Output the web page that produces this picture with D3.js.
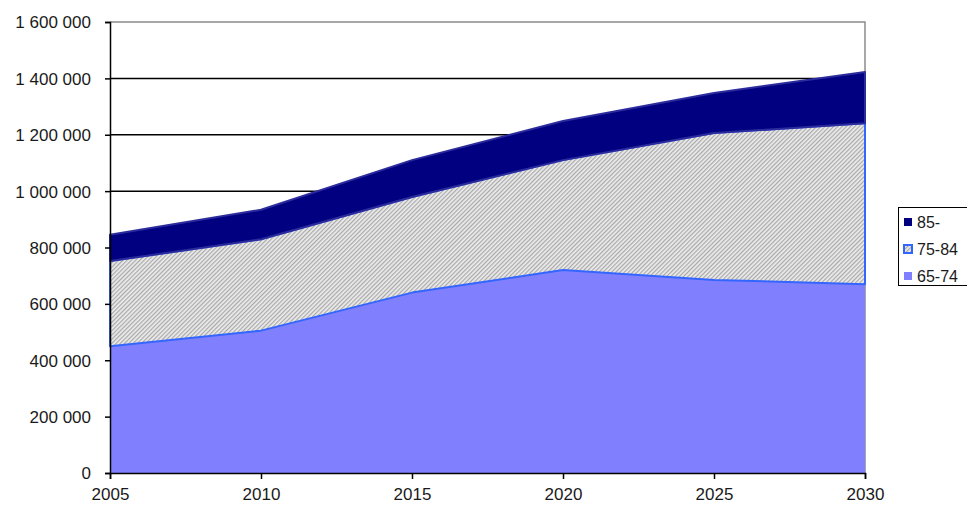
<!DOCTYPE html>
<html>
<head>
<meta charset="utf-8">
<script src="https://cdn.jsdelivr.net/npm/d3@7"></script>
<style>
  body { margin: 0; background: #fff; }
  svg { display: block; font-family: Arial, "Liberation Sans", sans-serif; }
</style>
</head>
<body>
<div class="canvas"></div>
<script>
// data (people)
const years = [2005, 2010, 2015, 2020, 2025, 2030];
const age65_74 = [450000, 505000, 640000, 720000, 685000, 670000];
const age75_84 = [302000, 324000, 339000, 390000, 521000, 571000];
const age85 = [93000, 105000, 131000, 139000, 142000, 182000];
const seriesNames = ["65-74", "75-84", "85-"];
const yTicks = [0, 200000, 400000, 600000, 800000, 1000000, 1200000, 1400000, 1600000];

const dims = { width: 967, height: 507 };
const margin = { top: 22, right: 102, bottom: 34, left: 110 };
const innerW = dims.width - margin.left - margin.right;
const innerH = dims.height - margin.top - margin.bottom;

const svg = d3
  .select(".canvas")
  .append("svg")
  .attr("width", dims.width)
  .attr("height", dims.height);

// hatch pattern for 75-84
const defs = svg.append("defs");
const pat = defs
  .append("pattern")
  .attr("id", "hatch")
  .attr("patternUnits", "userSpaceOnUse")
  .attr("width", 3)
  .attr("height", 3)
  .attr("patternTransform", "rotate(45)");
pat.append("rect").attr("width", 3).attr("height", 3).attr("fill", "#ececec");
pat.append("rect").attr("width", 1.2).attr("height", 3).attr("fill", "#a8a8a8");

const graph = svg
  .append("g")
  .attr("transform", `translate(${margin.left}, ${margin.top})`);

const x = d3.scaleLinear().domain([2005, 2030]).range([0, innerW]);
const y = d3.scaleLinear().domain([0, 1600000]).range([innerH, 0]);

const fmt = d3.formatLocale({ decimal: ",", thousands: " ", grouping: [3], currency: ["", ""] }).format(",d");

// stack data
const table = years.map((yr, i) => ({
  year: yr,
  "65-74": age65_74[i],
  "75-84": age75_84[i],
  "85-": age85[i]
}));
const stacked = d3.stack().keys(seriesNames)(table);

// gridlines
graph
  .selectAll("line.grid")
  .data(yTicks.slice(1, -1))
  .enter()
  .append("line")
  .attr("class", "grid")
  .attr("x1", 0)
  .attr("x2", innerW)
  .attr("y1", (d) => y(d))
  .attr("y2", (d) => y(d))
  .attr("stroke", "#000")
  .attr("stroke-width", 1.5);

// plot border top/right (grey)
graph.append("path")
  .attr("d", `M0,${y(1600000)}H${innerW}V${innerH}`)
  .attr("fill", "none")
  .attr("stroke", "#8c8c8c")
  .attr("stroke-width", 1.5);

const area = d3
  .area()
  .x((d) => x(d.data.year))
  .y0((d) => y(d[0]))
  .y1((d) => y(d[1]));

const styles = {
  "65-74": { fill: "#8080ff", stroke: "none", sw: 0 },
  "75-84": { fill: "url(#hatch)", stroke: "#3366ff", sw: 2 },
  "85-": { fill: "#000080", stroke: "#2b2b9c", sw: 2 }
};

graph
  .selectAll("path.area")
  .data(stacked)
  .enter()
  .append("path")
  .attr("class", "area")
  .attr("d", area)
  .attr("fill", (d) => styles[d.key].fill)
  .attr("stroke", (d) => styles[d.key].stroke)
  .attr("stroke-width", (d) => styles[d.key].sw)
  .attr("stroke-linejoin", "round");

// axes
const yAxis = d3.axisLeft(y).tickValues(yTicks).tickFormat(fmt).tickSize(5).tickPadding(14);
const xAxis = d3.axisBottom(x).tickValues(years).tickFormat(d3.format("d")).tickSize(6).tickPadding(9);

const gy = graph.append("g").call(yAxis);
const gx = graph.append("g").attr("transform", `translate(0, ${innerH})`).call(xAxis);

[gy, gx].forEach((g) => {
  g.select(".domain").attr("stroke", "#000").attr("stroke-width", 1.5);
  g.selectAll(".tick line").attr("stroke", "#000").attr("stroke-width", 1.5);
  g.selectAll("text").attr("fill", "#1a1a1a").style("font-size", "17px");
});
gy.selectAll("text").attr("dy", "0.35em");

//legend
const legend = svg.append("g").attr("transform", "translate(898, 207)");
legend
  .append("rect")
  .attr("x", 0.5)
  .attr("y", 0.5)
  .attr("width", 80)
  .attr("height", 78)
  .attr("fill", "#fff")
  .attr("stroke", "#000")
  .attr("stroke-width", 1);

const legendItems = ["85-", "75-84", "65-74"];
const legendRows = legend
  .selectAll("g.item")
  .data(legendItems)
  .enter()
  .append("g")
  .attr("class", "item")
  .attr("transform", (d, i) => `translate(6, ${11 + i * 27})`);

legendRows
  .append("rect")
  .attr("width", 8)
  .attr("height", 8)
  .attr("fill", (d) => (d === "75-84" ? "url(#hatch)" : styles[d].fill))
  .attr("stroke", (d) => (d === "75-84" ? "#3366ff" : "none"))
  .attr("stroke-width", 2);

legendRows
  .append("text")
  .attr("x", 13)
  .attr("y", 4)
  .attr("dy", "0.35em")
  .attr("fill", "#1a1a1a")
  .style("font-size", "16px")
  .text((d) => d);
</script>
</body>
</html>
